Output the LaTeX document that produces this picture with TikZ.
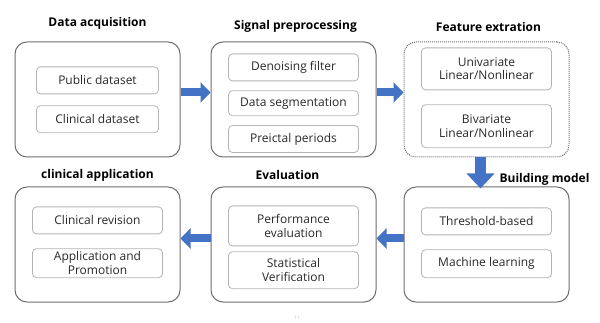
\documentclass[tikz,border=0pt]{standalone}
\usepackage{fontspec}
\setmainfont{Open Sans}
\usepackage{xcolor}
\usetikzlibrary{arrows.meta,positioning}

\definecolor{flowblue}{RGB}{68,114,196}
\definecolor{outergray}{RGB}{110,110,110}
\definecolor{innergray}{RGB}{180,180,180}
\definecolor{textdark}{RGB}{40,40,40}

\begin{document}
\begin{tikzpicture}[
  stage/.style={draw=outergray, line width=1pt, rounded corners=12pt, minimum width=165pt, minimum height=115pt},
  item/.style={draw=innergray, line width=0.8pt, rounded corners=4pt, align=center, minimum width=130pt, minimum height=27pt, inner sep=1pt, text=textdark, font=\fontsize{12}{13.5}\selectfont},
  title/.style={font=\bfseries\fontsize{12}{14}\selectfont, text depth=3pt, inner sep=2pt},
  flow/.style={-{Triangle[length=10pt, width=20pt]}, line width=8pt, flowblue},
  flowdown/.style={-{Triangle[length=15pt, width=27pt]}, line width=11pt, flowblue}
]
\path[use as bounding box] (0,0) rectangle (600pt,-323pt);
% top row
\node[stage] (acq) at (97.5pt,-99.5pt) {};
\node[stage, right=30pt of acq] (pre) {};
\node[stage, right=27pt of pre, densely dotted] (feat) {};
% bottom row
\node[stage, below=29pt of feat] (build) {};
\node[stage, below=29pt of pre] (eval) {};
\node[stage, below=29pt of acq] (app) {};
% titles
\node[title, above=10pt of acq] (acqt) {Data acquisition};
\node[title, above=7pt of pre, xshift=2pt] (pret) {Signal preprocessing};
\node[title, above=5pt of feat, xshift=2pt] (featt) {Feature extration};
\node[title, anchor=south, inner sep=1pt] (buildt) at ([xshift=-25pt]build.north east) {Building model};
\node[title, above=2pt of eval, xshift=-6pt] (evalt) {Evaluation};
\node[title, above=3pt of app] (appt) {clinical application};
% items
\node[item, minimum width=122pt, below=25pt of acq.north] (pub) {Public dataset};
\node[item, minimum width=122pt, below=11pt of pub] (clin) {Clinical dataset};
\node[item, below=12pt of pre.north] (den) {Denoising filter};
\node[item, below=9pt of den, minimum height=25pt] (seg) {Data segmentation};
\node[item, below=9pt of seg] (prei) {Preictal periods};
\node[item, below=6pt of feat.north, minimum height=42pt] (uni) {Univariate\\Linear/Nonlinear};
\node[item, below=14pt of uni, minimum height=43pt] (bi) {Bivariate\\Linear/Nonlinear};
\node[item, below=21pt of build.north] (thr) {Threshold-based};
\node[item, below=14pt of thr, minimum height=28pt] (ml) {Machine learning};
\node[item, below=19pt of eval.north, minimum height=40pt] (perf) {Performance\\evaluation};
\node[item, below=5pt of perf, minimum height=37pt] (stat) {Statistical\\Verification};
\node[item, below=20pt of app.north] (rev) {Clinical revision};
\node[item, below=14pt of rev, minimum height=29pt] (prom) {Application and\\Promotion};
% flow arrows
\draw[flow] ([yshift=7pt]acq.east) -- ([yshift=7pt]pre.west);
\draw[flow] ([yshift=7pt]pre.east) -- ([yshift=7pt]feat.west);
\draw[flowdown] ([xshift=-6pt]feat.south) -- ([xshift=-6pt,yshift=-2pt]build.north);
\draw[flow] ([yshift=6pt]build.west) -- ([yshift=6pt]eval.east);
\draw[flow] ([yshift=6pt]eval.west) -- ([yshift=6pt]app.east);
% page number
\node[font=\tiny, text=gray!45] (pg) at (297pt,-318pt) {11};
\end{tikzpicture}
\end{document}
